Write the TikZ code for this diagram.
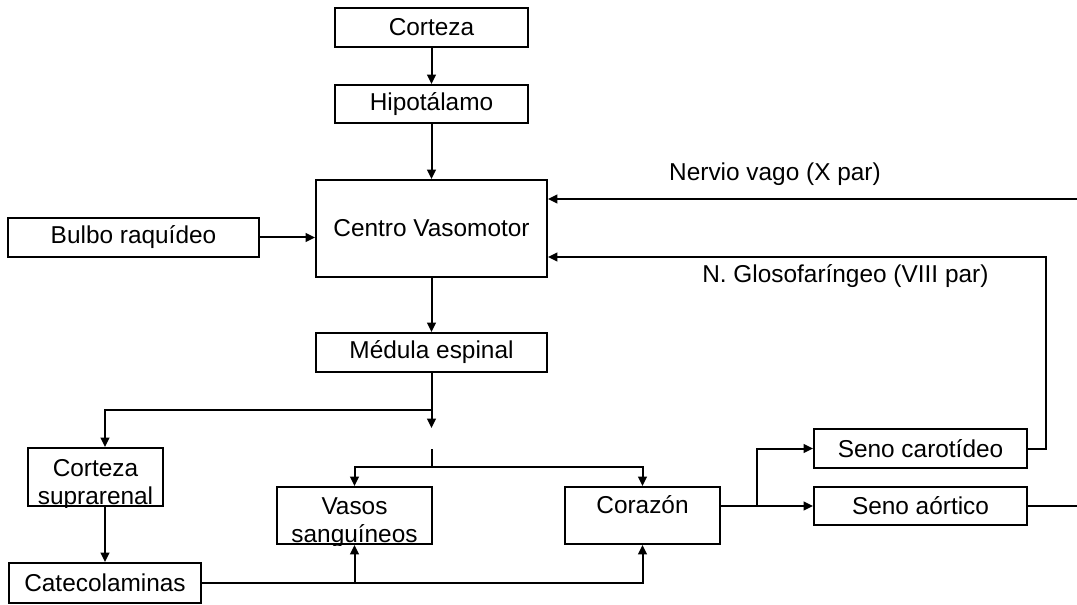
\documentclass[tikz,border=0pt]{standalone}
\usepackage{fontspec}
\setmainfont{Liberation Sans}
\usetikzlibrary{arrows.meta}
\begin{document}
\begin{tikzpicture}[x=0.75pt,y=-0.75pt,
  box/.style={draw, line width=1.5pt, inner sep=0pt, font=\fontsize{18.3}{21}\selectfont},
  link/.style={line width=1.5pt},
  arr/.style={link, -{Triangle[length=7pt,width=6.5pt]}},
  lbl/.style={font=\fontsize{18.3}{21}\selectfont, inner sep=0pt}]
\useasboundingbox[fill=white] (0,0) rectangle (1077,605);

% boxes
\node[box, minimum width=145pt, minimum height=29.25pt] (cortex) at (431.5,27.5) {Corteza};
\node[box, minimum width=145pt, minimum height=28.5pt] (hypo) at (431.5,104) {Hipotálamo};
\node[box, minimum width=173.25pt, minimum height=72.75pt] (cvm) at (431.5,228.5) {Centro Vasomotor};
\node[box, minimum width=188.25pt, minimum height=29.25pt] (bulbo) at (133.5,237.5) {Bulbo raquídeo};
\node[box, minimum width=173.25pt, minimum height=29.25pt] (medula) at (431.5,352.5) {Médula espinal};
\node[box, minimum width=101.25pt, minimum height=43.5pt] (csupra) at (95.5,477) {};
\node[box, minimum width=144pt, minimum height=30pt] (cateco) at (105,583) {Catecolaminas};
\node[box, minimum width=116.25pt, minimum height=42.75pt] (vasos) at (354.5,515.5) {};
\node[box, minimum width=116.25pt, minimum height=42.75pt] (corazon) at (642.5,515.5) {};
\node[box, minimum width=159.75pt, minimum height=29.25pt] (scaro) at (920.5,448.5) {Seno carotídeo};
\node[box, minimum width=159.75pt, minimum height=28.5pt] (saort) at (920.5,506) {Seno aórtico};

% two-line texts cut off by the box edge
\begin{scope}
  \clip (csupra.south west) rectangle (csupra.north east);
  \node[lbl, anchor=base] (csupra1) at (95.5,476) {Corteza};
  \node[lbl, anchor=base] (csupra2) at (95.5,504) {suprarenal};
\end{scope}
\begin{scope}
  \clip (vasos.south west) rectangle (vasos.north east);
  \node[lbl, anchor=base] (vasos1) at (354.5,514) {Vasos};
  \node[lbl, anchor=base] (vasos2) at (354.5,542) {sanguíneos};
\end{scope}
\node[lbl, anchor=base] (corazonT) at (642.5,513) {Corazón};

% labels of the afferent nerves
\node[lbl, anchor=base east] (vagoL) at (881,181) {Nervio vago (X par)};
\node[lbl, anchor=base west] (glosoL) at (702,283) {N. Glosofaríngeo (VIII par)};

% junction points and free ends
\coordinate (vagoR) at (1077,199);
\coordinate (glosoR) at (1046,257);
\coordinate (split) at (431.5,410);
\coordinate (gapTop) at (431.5,428);
\coordinate (gapBot) at (431.5,449);
\coordinate (split2) at (431.5,467);
\coordinate (catJoin) at (354.5,583);
\coordinate (corJoin) at (757,506);
\coordinate (aortR) at (1077,506);

% connectors
\draw[arr] (cortex) -- (hypo);
\draw[arr] (hypo) -- (cvm);
\draw[arr] (bulbo.east) -- (cvm.west |- bulbo.east);
\draw[arr] (vagoR) -- (cvm.east |- vagoR);
\draw[arr] (scaro.east) -| (glosoR) -- (cvm.east |- glosoR);
\draw[arr] (cvm) -- (medula);
\draw[arr] (medula) -- (gapTop);
\draw[arr] (split) -| (cateco.center |- csupra.north);
\draw[arr] (cateco.north |- csupra.south) -- (cateco.north);
\draw[link] (gapBot) -- (split2);
\draw[arr] (split2) -| (vasos.north);
\draw[arr] (split2) -| (corazon.north);
\draw[arr] (cateco.east) -| (corazon.south);
\draw[arr] (catJoin) -- (vasos.south);
\draw[link] (corazon.east |- corJoin) -- (corJoin);
\draw[arr] (corJoin) -- (saort.west);
\draw[arr] (corJoin) |- (scaro.west);
\draw[link] (saort.east) -- (aortR);
\end{tikzpicture}
\end{document}
